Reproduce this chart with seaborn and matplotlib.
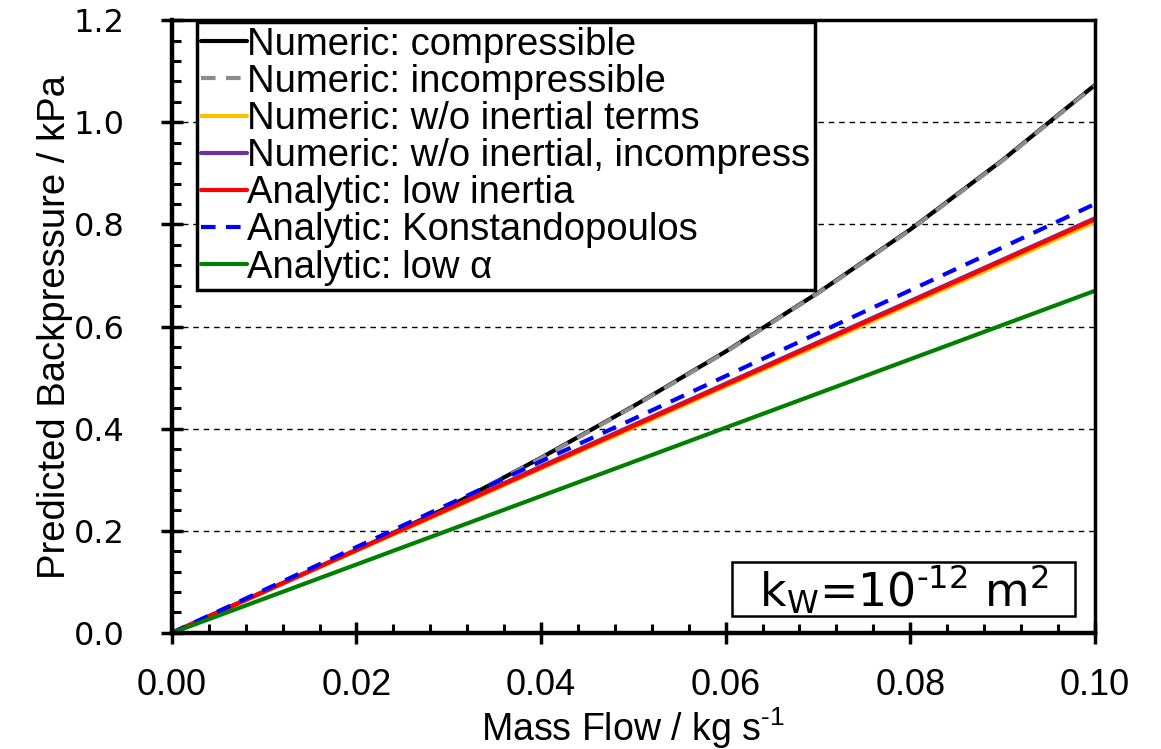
import matplotlib
matplotlib.use("Agg")
import matplotlib.pyplot as plt
import seaborn as sns
from matplotlib.ticker import MultipleLocator, FormatStrFormatter
from matplotlib.patches import Rectangle

# data
mass_flow = [0.00, 0.01, 0.02, 0.03, 0.04, 0.05, 0.06, 0.07, 0.08, 0.09, 0.10]
num_compressible = [0, 0.081, 0.162, 0.247, 0.343, 0.444, 0.551, 0.666, 0.790, 0.926, 1.073]
num_incompressible = [0, 0.081, 0.162, 0.247, 0.342, 0.443, 0.550, 0.665, 0.789, 0.925, 1.072]
num_no_inertia = [0, 0.080, 0.161, 0.241, 0.322, 0.402, 0.483, 0.563, 0.644, 0.724, 0.805]
num_no_inertia_incomp = [0, 0.081, 0.163, 0.244, 0.326, 0.407, 0.488, 0.569, 0.650, 0.731, 0.812]
ana_low_inertia = [0, 0.081, 0.162, 0.243, 0.324, 0.405, 0.486, 0.567, 0.648, 0.729, 0.810]
ana_konstandopoulos = [0, 0.084, 0.168, 0.252, 0.336, 0.419, 0.503, 0.587, 0.671, 0.755, 0.840]
ana_low_alpha = [0, 0.067, 0.134, 0.201, 0.268, 0.335, 0.402, 0.469, 0.536, 0.603, 0.670]

series = [
    ("Numeric: compressible", num_compressible, "black", "-"),
    ("Numeric: incompressible", num_incompressible, "#8C8C8C", "--"),
    ("Numeric: w/o inertial terms", num_no_inertia, "#FFC000", "-"),
    ("Numeric: w/o inertial, incompress", num_no_inertia_incomp, "#7030A0", "-"),
    ("Analytic: low inertia", ana_low_inertia, "#FF0000", "-"),
    ("Analytic: Konstandopoulos", ana_konstandopoulos, "#0000FF", "--"),
    ("Analytic: low \u03b1", ana_low_alpha, "#008000", "-"),
]

sns.set_style("ticks")
plt.rcParams["font.family"] = ["Liberation Sans", "DejaVu Sans"]
for key in ["text.color", "axes.labelcolor", "xtick.color", "ytick.color"]:
    plt.rcParams[key] = "black"
plt.rcParams["xtick.major.pad"] = 17
plt.rcParams["ytick.major.pad"] = 26

fig = plt.figure(figsize=(11.61, 7.49), dpi=100)
ax = fig.add_axes([0.148, 0.155, 0.795, 0.818])

for name, vals, col, ls in series:
    sns.lineplot(x=mass_flow, y=vals, ax=ax, color=col, linestyle=ls,
                 linewidth=3.0, label=name)
for line in ax.get_lines():
    if line.get_linestyle() == "--":
        line.set_dashes((3.5, 2.5))

ax.set_xlim(0, 0.1)
ax.set_ylim(0, 1.2)
ax.xaxis.set_major_locator(MultipleLocator(0.02))
ax.xaxis.set_minor_locator(MultipleLocator(0.004))
ax.yaxis.set_major_locator(MultipleLocator(0.2))
ax.yaxis.set_minor_locator(MultipleLocator(0.04))
ax.xaxis.set_major_formatter(FormatStrFormatter("%.2f"))
ax.yaxis.set_major_formatter(FormatStrFormatter("%.1f"))

ax.yaxis.grid(True, color="black", linestyle=(0, (4, 3.5)), linewidth=1.0)
ax.set_axisbelow(True)

for side in ["left", "bottom"]:
    ax.spines[side].set_linewidth(3.2)
for side in ["top", "right"]:
    ax.spines[side].set_linewidth(2.5)
for sp in ax.spines.values():
    sp.set_color("black")

ax.tick_params(which="major", direction="inout", length=16, width=2.5)
ax.tick_params(which="minor", direction="in", length=6.5, width=2.2)
ax.tick_params(axis="x", which="major", pad=17)
ax.tick_params(axis="y", which="major", pad=26)
for lab in ax.get_xticklabels():
    lab.set_family(["Liberation Sans Narrow", "Liberation Sans"])
    lab.set_fontsize(26)
for lab in ax.get_yticklabels():
    lab.set_family("DejaVu Sans")
    lab.set_fontsize(23)

ax.set_xlabel("Mass Flow / kg s$^{\\mathregular{\u20101}}$", fontsize=27, labelpad=2)
ax.set_ylabel("Predicted Backpressure / kPa", fontsize=27.5, labelpad=0)

leg = ax.legend(loc="upper left", bbox_to_anchor=(0.027, 0.997), borderaxespad=0,
                fontsize=27.5, frameon=True, fancybox=False, framealpha=1,
                edgecolor="black", handlelength=1.2, handletextpad=0.0,
                labelspacing=0.03, borderpad=0.12)
leg.get_frame().set_linewidth(2.5)

# permeability annotation box
ax.add_patch(Rectangle((0.607, 0.028), 0.372, 0.088, transform=ax.transAxes,
                       facecolor="white", edgecolor="black", linewidth=1.8, zorder=5))
ax.text(0.793, 0.070, "k$_\\mathregular{W}$=10$^\\mathregular{\u201012}$ m$^\\mathregular{2}$",
        transform=ax.transAxes, ha="center", va="center", fontsize=33,
        family="DejaVu Sans", zorder=6)

fig.savefig("out.png", dpi=100)
